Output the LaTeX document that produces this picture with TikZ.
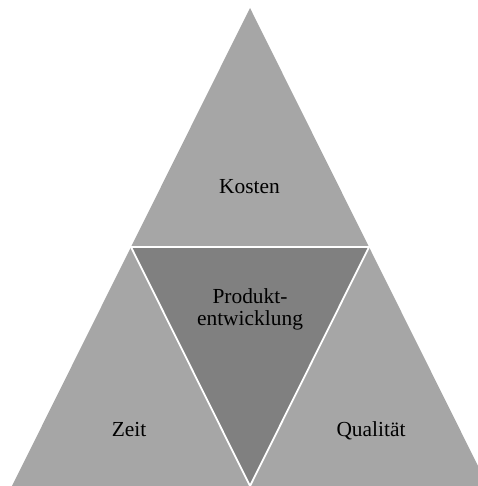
\documentclass[tikz,border=0pt]{standalone}
\usepackage{fontspec}
\setmainfont{Liberation Serif}
\begin{document}
\begin{tikzpicture}[x=1bp,y=1bp,
  outer/.style={fill=black!35},
  inner/.style={fill=black!50},
  seam/.style={draw=white,line width=1.8bp,line join=miter},
  lbl/.style={font=\fontsize{21.5}{22}\selectfont,anchor=base,inner sep=0pt,align=center}]
\useasboundingbox (0,0) rectangle (478,486);
\clip (0,0) rectangle (478,486);
% corners of the large triangle and of the central one
\coordinate (A) at (250,478);
\coordinate (L) at (12,0);
\coordinate (R) at (488,0);
\coordinate (ML) at (131,239);
\coordinate (MR) at (369,239);
\coordinate (MB) at (250,0);
\path[outer] (A) -- (L) -- (R) -- cycle;
\path[inner] (ML) -- (MR) -- (MB) -- cycle;
\draw[seam] (ML) -- (MR) -- (MB) -- cycle;
% labels
\node[lbl] (kosten) at (249.5,292) {Kosten};
\node[lbl] (pe1) at (250,182) {Produkt-};
\node[lbl] (pe2) at (250,160) {entwicklung};
\node[lbl] (zeit) at (129,49) {Zeit};
\node[lbl] (qual) at (371,49) {Qualität};
\end{tikzpicture}
\end{document}
